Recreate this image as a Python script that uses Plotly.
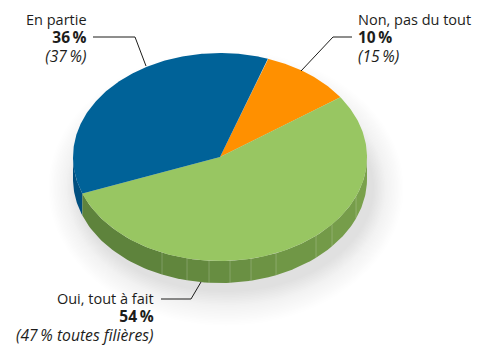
import numpy as np
import plotly.graph_objects as go

categories = ["Non, pas du tout", "Oui, tout à fait", "En partie"]
values = [10, 54, 36]
previous = ["(15\u2009%)", "(47\u2009% toutes filières)", "(37\u2009%)"]
colors = ["#FF9000", "#98C662", "#006298"]
side_colors = ["#B06400", "#6C9345", "#004F7F"]
facet_x = [356, 332, 316, 276, 251, 230, 209, 187, 162]

W, H = 477, 345
CX, CY, RX, RY, DEPTH = 220, 157, 147, 104, 22
START = 71.0
FONT = "Open Sans"
TC = "#1d1d1b"

fig = go.Figure()


def px(t):
    return CX + RX * np.cos(np.radians(t))


def py(t, d=0):
    return CY - RY * np.sin(np.radians(t)) + d


def poly(x, y, color):
    fig.add_trace(go.Scatter(x=x, y=y, mode="lines", fill="toself", fillcolor=color,
                             line=dict(width=0), hoverinfo="skip", showlegend=False))


# soft shadow
for k in np.linspace(1, 0, 22):
    t = np.linspace(0, 360, 121)
    a = 0.004 + 0.010 * (1 - k)
    poly(226 + (148 + 30 * k) * np.cos(np.radians(t)),
         188 + (104 + 34 * k) * np.sin(np.radians(t)),
         "rgba(110,110,120,%.4f)" % a)

# slice boundaries (clockwise from START)
edges = START - np.cumsum([0] + values) * 3.6

# blue rim from the left extreme to the green boundary
t = np.linspace(180, edges[2] + 360, 20)
poly(np.r_[px(t), px(t[::-1])], np.r_[py(t), py(t[::-1], DEPTH)], side_colors[2])

# green rim facets, darker to the left
xs = [CX + RX] + facet_x
ang = [-np.degrees(np.arccos((x - CX) / RX)) for x in xs] + [edges[2]]
n = len(ang) - 1
for i in range(n):
    f = i / (n - 1)
    col = "rgb(%d,%d,%d)" % (122 - 28 * f, 161 - 30 * f, 76 - 16 * f)
    t = np.linspace(ang[i], ang[i + 1], 30)
    poly(np.r_[px(t), px(t[::-1])], np.r_[py(t), py(t[::-1], DEPTH)], col)
for x in facet_x:
    a = -np.degrees(np.arccos((x - CX) / RX))
    fig.add_trace(go.Scatter(x=[x, x], y=[py(a), py(a, DEPTH)], mode="lines",
                             line=dict(color="rgba(255,255,255,0.2)", width=1),
                             hoverinfo="skip", showlegend=False))

# top slices
for i in range(3):
    t = np.linspace(edges[i], edges[i + 1], 200)
    poly(np.r_[CX, px(t), CX], np.r_[CY, py(t), CY], colors[i])

# leaders
leaders = [([352, 333, 301], [37, 37, 71]),
           ([161, 191, 201], [299, 299, 282]),
           ([93, 135, 146], [37, 37, 66])]
for lx, ly in leaders:
    fig.add_trace(go.Scatter(x=lx, y=ly, mode="lines", line=dict(color=TC, width=1),
                             hoverinfo="skip", showlegend=False))

# labels
label_pos = [(358, 38.5, "left"), (154, 317.5, "right"), (87, 38.5, "right")]
for i, (x, y, al) in enumerate(label_pos):
    txt = ("<span style='font-size:14.5px'>%s</span><br>"
           "<b><span style='font-size:15.5px'>%d\u2009%%</span></b><br>"
           "<i><span style='font-size:15.7px'>%s</span></i>"
           % (categories[i], values[i], previous[i]))
    fig.add_annotation(x=x, y=y, text=txt, showarrow=False, xanchor=al, yanchor="middle",
                       xref="x", yref="y", align=al, borderpad=0, borderwidth=0,
                       font=dict(family=FONT, size=14.2, color=TC))

fig.update_layout(width=W, height=H, margin=dict(l=0, r=0, t=0, b=0), autosize=False,
                  paper_bgcolor="white", plot_bgcolor="white", showlegend=False,
                  xaxis=dict(range=[0, W], visible=False, fixedrange=True),
                  yaxis=dict(range=[H, 0], visible=False, fixedrange=True))
fig.write_html("out.html", config={"displayModeBar": False},
               post_script="document.body.style.margin='0';document.documentElement.style.overflow='hidden';")
